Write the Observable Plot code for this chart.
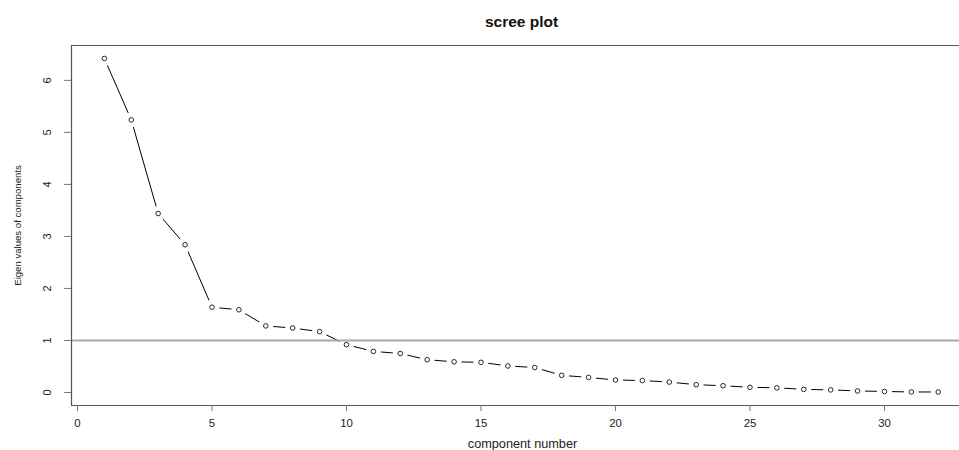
<!DOCTYPE html>
<html>
<head>
<meta charset="utf-8">
<script src="https://cdn.jsdelivr.net/npm/d3@7"></script>
<script src="https://cdn.jsdelivr.net/npm/@observablehq/plot@0.6"></script>
<style>
  html, body { margin: 0; padding: 0; background: #fff; overflow: hidden; }
  #chart svg { display: block; }
</style>
</head>
<body>
<div id="chart"></div>
<script>
// component numbers
const components = d3.range(1, 33);
// eigen values
const eigenValues = [6.42, 5.24, 3.44, 2.84, 1.64, 1.59, 1.28, 1.24, 1.17, 0.92,
  0.79, 0.75, 0.63, 0.59, 0.58, 0.51, 0.48, 0.33, 0.29, 0.24,
  0.23, 0.20, 0.15, 0.13, 0.10, 0.09, 0.06, 0.05, 0.03, 0.02,
  0.01, 0.01];
const xTicks = [0, 5, 10, 15, 20, 25, 30];
const yTicks = [0, 1, 2, 3, 4, 5, 6];
const refLine = [1];
const titleText = "scree plot";
const xLabel = "component number";
const yLabel = "Eigen values of components";

const data = components.map((c, i) => ({c, v: eigenValues[i]}));
const xDomain = [-0.223, 32.79];
const yDomain = [-0.25, 6.67];
const font = "'Liberation Sans', Arial, sans-serif";
const textCol = "#222";

const chart = Plot.plot({
  width: 959,
  height: 450,
  marginLeft: 71,
  marginRight: 0,
  marginTop: 45,
  marginBottom: 45,
  style: {fontFamily: font, background: "#fff", overflow: "visible"},
  x: {domain: xDomain, axis: null},
  y: {domain: yDomain, axis: null},
  marks: [
    // data line
    Plot.line(data, {x: "c", y: "v", stroke: "#000", strokeWidth: 1}),
    // white gaps around points (type = "b")
    Plot.dot(data, {x: "c", y: "v", r: 7.5, fill: "#fff", stroke: "none"}),
    // horizontal reference line
    Plot.ruleY(refLine, {stroke: "#aaa", strokeWidth: 2}),
    // points
    Plot.dot(data, {x: "c", y: "v", r: 2.3, fill: "none", stroke: "#111", strokeWidth: 0.9}),
    // box: left, top, bottom
    Plot.ruleX([xDomain[0]], {stroke: "#555", strokeWidth: 1.2}),
    Plot.ruleY(yDomain, {stroke: "#555", strokeWidth: 1.2}),
    // x axis ticks
    Plot.axisX({ticks: xTicks, tickSize: 6, tickFormat: () => "", stroke: "#777", label: null, anchor: "bottom"}),
    Plot.text(xTicks, {x: d => d, frameAnchor: "bottom", dy: 18, text: d => String(d),
      fontSize: 11.4, fill: textCol, lineAnchor: "middle", textAnchor: "middle"}),
    // y axis ticks
    Plot.axisY({ticks: yTicks, tickSize: 7, tickFormat: () => "", stroke: "#777", label: null, anchor: "left"}),
    Plot.text(yTicks, {y: d => d, frameAnchor: "left", dx: -24, rotate: -90, text: d => String(d),
      fontSize: 11, fill: textCol, lineAnchor: "middle", textAnchor: "middle"}),
    // title
    Plot.text([titleText], {frameAnchor: "top", dx: 6, dy: -23, text: d => d,
      fontSize: 15.5, fontWeight: "bold", fill: "#111", lineAnchor: "middle"}),
    // x label
    Plot.text([xLabel], {frameAnchor: "bottom", dx: 7, dy: 38, text: d => d,
      fontSize: 12.7, fill: textCol, lineAnchor: "middle"}),
    // y label
    Plot.text([yLabel], {frameAnchor: "left", dx: -54, rotate: -90, text: d => d,
      fontSize: 9.6, fill: textCol, lineAnchor: "middle", textAnchor: "middle"})
  ]
});
document.getElementById("chart").appendChild(chart);
</script>
</body>
</html>
